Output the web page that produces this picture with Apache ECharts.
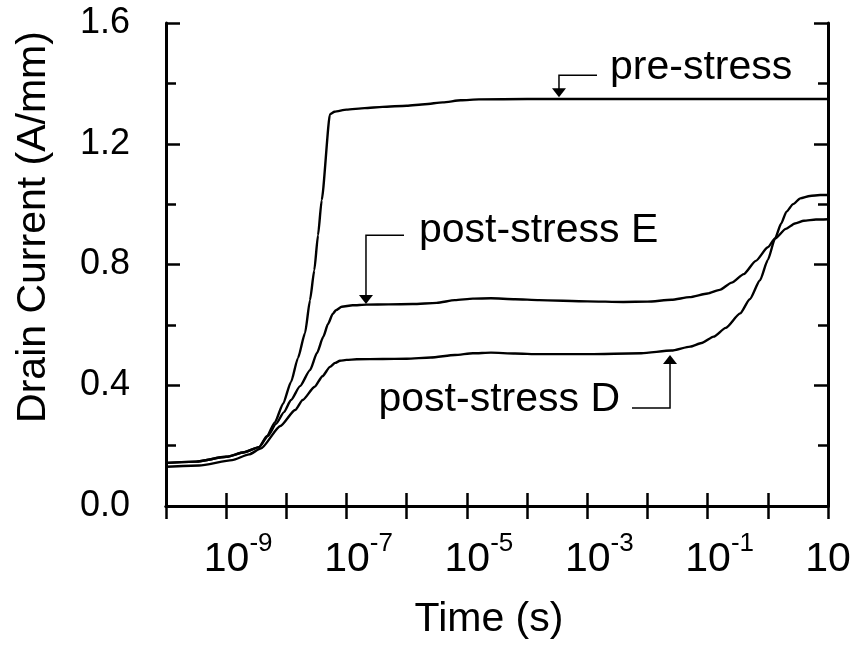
<!DOCTYPE html>
<html>
<head>
<meta charset="utf-8">
<script src="https://cdn.jsdelivr.net/npm/echarts@6/dist/echarts.min.js"></script>
<style>
  html, body { margin: 0; padding: 0; background: #fff; }
  #chart { width: 859px; height: 646px; }
</style>
</head>
<body>
<div id="chart"></div>
<script>
// Drain current transients after a gate pulse.
// Times are given as base-10 exponents of seconds, currents in A/mm.
const preExp = [-10, -9.5, -9.0, -8.7, -8.455, -8.322, -8.189, -8.056, -7.923, -7.807, -7.69, -7.607, -7.536, -7.474, -7.413, -7.275, -7.2, -7.0, -6.7, -6.4, -6.0, -5.7, -5.4, -5.1, -4.8, -4.0, 1.0];
const preCurrent = [0.143, 0.147, 0.163, 0.178, 0.195, 0.232, 0.278, 0.338, 0.411, 0.490, 0.573, 0.682, 0.781, 0.897, 1.013, 1.298, 1.306, 1.313, 1.318, 1.322, 1.326, 1.331, 1.337, 1.344, 1.347, 1.348, 1.348];

const postEExp = [-10, -9.5, -9.0, -8.7, -8.455, -8.306, -8.172, -8.039, -7.923, -7.773, -7.607, -7.491, -7.386, -7.308, -7.23, -7.175, -7.08, -6.9, -6.67, -6.3, -5.9, -5.5, -5.2, -4.9, -4.6, -4.2, -3.8, -3.0, -2.4, -2.0, -1.6, -1.3, -1.0, -0.8, -0.6, -0.4, -0.2, 0.0, 0.12, 0.3, 0.45, 0.6, 0.8, 1.0];
const postECurrent = [0.143, 0.147, 0.163, 0.178, 0.195, 0.232, 0.272, 0.311, 0.351, 0.397, 0.450, 0.507, 0.561, 0.603, 0.636, 0.649, 0.660, 0.665, 0.667, 0.668, 0.669, 0.673, 0.682, 0.687, 0.688, 0.685, 0.682, 0.678, 0.676, 0.677, 0.683, 0.692, 0.704, 0.716, 0.740, 0.768, 0.812, 0.857, 0.886, 0.918, 0.936, 0.945, 0.949, 0.950];

const postDExp = [-10, -9.45, -8.9, -8.62, -8.42, -8.1, -7.855, -7.729, -7.53, -7.4, -7.275, -7.19, -7.109, -7.0, -6.83, -6.4, -6.0, -5.6, -5.2, -4.9, -4.6, -4.2, -3.8, -3.0, -2.1, -1.6, -1.29, -1.1, -0.9, -0.7, -0.46, -0.3, -0.13, 0.0, 0.12, 0.22, 0.31, 0.42, 0.54, 0.7, 0.87, 1.0];
const postDCurrent = [0.130, 0.134, 0.152, 0.171, 0.191, 0.265, 0.318, 0.351, 0.395, 0.43, 0.461, 0.474, 0.481, 0.484, 0.486, 0.487, 0.488, 0.492, 0.500, 0.506, 0.508, 0.505, 0.503, 0.503, 0.506, 0.515, 0.528, 0.540, 0.561, 0.590, 0.638, 0.685, 0.748, 0.815, 0.886, 0.935, 0.975, 1.000, 1.019, 1.027, 1.030, 1.030];

// Axis ranges and labelled decades
const timeMin = 1e-10;
const timeMax = 10;
const xLabelExps = [-9, -7, -5, -3, -1, 1];
const currentMin = 0;
const currentMax = 1.6;
const currentStep = 0.4;

// Callouts: arrow path [exp, current] (tip first), text anchor, alignment
const callouts = [
  { text: 'pre-stress',    path: [[-3.47, 1.354], [-3.47, 1.427], [-2.838, 1.427]], at: [-2.622, 1.452], align: 'left' },
  { text: 'post-stress E', path: [[-6.677, 0.669], [-6.677, 0.897], [-6.045, 0.897]], at: [-5.796, 0.913], align: 'left' },
  { text: 'post-stress D', path: [[-1.625, 0.500], [-1.625, 0.3245], [-2.257, 0.3245]], at: [-2.456, 0.351], align: 'right' }
];

const FONT = '"Liberation Sans", Arial, Helvetica, sans-serif';

function toPoints(exps, vals) {
  return exps.map((e, i) => [Math.pow(10, e), vals[i]]);
}

const chart = echarts.init(document.getElementById('chart'), null, { renderer: 'canvas' });

const lineSeries = (name, data) => ({
  name: name,
  type: 'line',
  xAxisIndex: 0,
  yAxisIndex: 0,
  data: data,
  showSymbol: false,
  smooth: 0.2,
  smoothMonotone: 'x',
  lineStyle: { color: '#000', width: 2.4, join: 'round' },
  emphasis: { disabled: true },
  silent: true
});

const axisLineStyle = { show: true, lineStyle: { color: '#000', width: 3 } };
const xTick = { show: true, inside: true, length: 13, interval: 0, lineStyle: { color: '#000', width: 2.5 } };

chart.setOption({
  animation: false,
  backgroundColor: '#fff',
  textStyle: { fontFamily: FONT, color: '#000' },
  grid: { left: 166, right: 31, top: 23, bottom: 140, show: false },
  xAxis: [
    {
      type: 'log', logBase: 10, min: timeMin, max: timeMax, interval: 1, splitNumber: 11,
      position: 'bottom',
      axisLine: axisLineStyle,
      axisTick: xTick,
      minorTick: { show: false },
      splitLine: { show: false },
      axisLabel: {
        margin: 32,
        color: '#000',
        fontFamily: FONT,
        showMinLabel: true,
        showMaxLabel: true,
        formatter: function (v) {
          const e = Math.round(Math.log10(v));
          if (xLabelExps.indexOf(e) < 0) return '';
          if (e === 1) return '{b|10}';
          return '{p|}{b|10}{s|' + e + '}';
        },
        rich: {
          b: { fontSize: 41, lineHeight: 42, fontFamily: FONT, color: '#000', verticalAlign: 'bottom' },
          s: { fontSize: 26, lineHeight: 26, padding: [0, 0, 23, 0], fontFamily: FONT, color: '#000', verticalAlign: 'bottom' },
          p: { width: 24 }
        }
      },
      name: 'Time (s)',
      nameLocation: 'middle',
      nameGap: 93,
      nameTextStyle: { fontSize: 41, fontFamily: FONT, color: '#000', padding: [0, 16, 0, 0] }
    },
    {
      type: 'log', logBase: 10, min: timeMin, max: timeMax, interval: 1, splitNumber: 11,
      position: 'top',
      axisLine: axisLineStyle,
      axisTick: xTick,
      splitLine: { show: false },
      axisLabel: { show: false }
    }
  ],
  yAxis: [
    {
      type: 'value', min: currentMin, max: currentMax, interval: currentStep,
      position: 'left',
      axisLine: axisLineStyle,
      axisTick: { show: true, inside: true, length: 14, lineStyle: { color: '#000', width: 2.5 } },
      minorTick: { show: true, splitNumber: 2, length: 10, lineStyle: { color: '#000', width: 2.5 } },
      splitLine: { show: false },
      axisLabel: {
        margin: 36, fontSize: 36, fontFamily: FONT, color: '#000',
        formatter: v => v.toFixed(1)
      },
      name: 'Drain Current (A/mm)',
      nameLocation: 'middle',
      nameRotate: 90,
      nameGap: 112,
      nameTextStyle: { fontSize: 41, fontFamily: FONT, color: '#000', padding: [0, 0, 0, 75] }
    },
    {
      type: 'value', min: currentMin, max: currentMax, interval: currentStep,
      position: 'right',
      axisLine: axisLineStyle,
      axisTick: { show: true, inside: true, length: 14, lineStyle: { color: '#000', width: 2.5 } },
      minorTick: { show: true, splitNumber: 2, length: 10, lineStyle: { color: '#000', width: 2.5 } },
      splitLine: { show: false },
      axisLabel: { show: false }
    }
  ],
  series: [
    lineSeries('pre-stress', toPoints(preExp, preCurrent)),
    lineSeries('post-stress E', toPoints(postEExp, postECurrent)),
    lineSeries('post-stress D', toPoints(postDExp, postDCurrent))
  ]
});

// Callout arrows and texts, placed through the grid's own coordinate system
function px(p) {
  return chart.convertToPixel({ gridIndex: 0 }, [Math.pow(10, p[0]), p[1]]);
}
const elements = [];
callouts.forEach(c => {
  const pts = c.path.map(px);
  const tip = pts[0];
  const back = Math.sign(pts[1][1] - tip[1]); // direction from tip toward the bend
  const headLen = 9, headHalf = 7;
  elements.push({
    type: 'polygon',
    shape: { points: [[tip[0], tip[1]], [tip[0] - headHalf, tip[1] + back * headLen], [tip[0] + headHalf, tip[1] + back * headLen]] },
    style: { fill: '#000' },
    silent: true
  });
  elements.push({
    type: 'polyline',
    shape: { points: [[tip[0], tip[1] + back * (headLen - 1)]].concat(pts.slice(1)) },
    style: { stroke: '#000', lineWidth: 1.5, fill: null },
    silent: true
  });
  const t = px(c.at);
  elements.push({
    type: 'text',
    x: t[0], y: t[1],
    style: { text: c.text, fontSize: 41, fontFamily: FONT, fill: '#000', align: c.align, verticalAlign: 'middle' },
    silent: true
  });
});
chart.setOption({ graphic: elements });
</script>
</body>
</html>
